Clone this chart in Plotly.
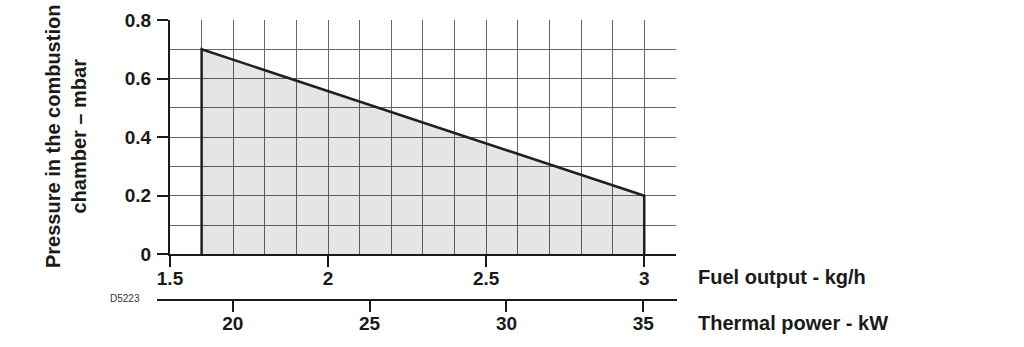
import plotly.graph_objects as go

# Data
fuel_kgh = [1.6, 1.6, 3.0, 3.0]
pressure_mbar = [0.0, 0.7, 0.2, 0.0]

x_range = [1.5, 3.1005]
y_range = [0.0, 0.8]
x_ticks = [1.5, 2, 2.5, 3]
x_ticklabels = ["1.5", "2", "2.5", "3"]
y_ticks = [0, 0.2, 0.4, 0.6, 0.8]
y_ticklabels = ["0", "0.2", "0.4", "0.6", "0.8"]
kw_range = [17.234, 36.23]
kw_ticks = [20, 25, 30, 35]

W, H = 1024, 347
FONT = "Liberation Sans, Arial, sans-serif"
INK = "#1a1a1a"
GRID = "#666666"

def px(x):
    return x / W

def py(y):
    return 1 - y / H

fig = go.Figure()
fig.add_trace(go.Scatter(
    x=fuel_kgh, y=pressure_mbar, mode="lines", fill="toself",
    fillcolor="rgba(0,0,0,0.10)",
    line=dict(color="#231f20", width=2.5),
    hoverinfo="skip", showlegend=False,
))
# invisible trace so that the secondary (thermal power) axis is drawn
fig.add_trace(go.Scatter(
    x=[kw_ticks[0]], y=[None], xaxis="x2", yaxis="y2", mode="markers",
    marker=dict(opacity=0), hoverinfo="skip", showlegend=False,
))

fig.update_layout(
    width=W, height=H,
    margin=dict(l=0, r=0, t=0, b=0),
    paper_bgcolor="white", plot_bgcolor="rgba(0,0,0,0)",
    font=dict(family=FONT, color=INK),
    xaxis=dict(
        domain=[px(170), px(676)], range=x_range, autorange=False,
        tickvals=x_ticks, ticktext=x_ticklabels,
        ticks="outside", ticklen=11, tickwidth=2, tickcolor=INK,
        showline=True, linecolor=INK, linewidth=2,
        showgrid=True, gridcolor=GRID, gridwidth=1,
        minor=dict(dtick=0.1, tick0=1.5, showgrid=True, gridcolor=GRID, gridwidth=1, ticks=""),
        zeroline=False,
        tickfont=dict(size=19, family=FONT, color=INK, weight="bold"),
        ticklabelstandoff=-5,
        automargin=False, anchor="y",
    ),
    yaxis=dict(
        domain=[py(254.3), py(20)], range=y_range, autorange=False,
        tickvals=y_ticks, ticktext=y_ticklabels,
        ticks="outside", ticklen=11, tickwidth=2, tickcolor=INK,
        showline=True, linecolor=INK, linewidth=2,
        showgrid=True, gridcolor=GRID, gridwidth=1,
        minor=dict(dtick=0.1, tick0=0, showgrid=True, gridcolor=GRID, gridwidth=1, ticks=""),
        zeroline=False,
        tickfont=dict(size=19, family=FONT, color=INK, weight="bold"),
        ticklabelstandoff=2,
        automargin=False, anchor="x",
    ),
    xaxis2=dict(
        domain=[px(157), px(677)], range=kw_range, autorange=False,
        anchor="y2",
        tickvals=kw_ticks, ticktext=[str(v) for v in kw_ticks],
        ticks="outside", ticklen=11, tickwidth=2, tickcolor=INK,
        showline=True, linecolor=INK, linewidth=2,
        showgrid=False, zeroline=False,
        tickfont=dict(size=19, family=FONT, color=INK, weight="bold"),
        ticklabelstandoff=-5,
        automargin=False,
    ),
    yaxis2=dict(
        domain=[py(299), py(297)], range=[0, 1], visible=False,
        showgrid=False, zeroline=False, anchor="x2",
    ),
)

ann_font = dict(size=20, family=FONT, color=INK, weight="bold")
fig.add_annotation(x=px(696), y=py(277), xref="paper", yref="paper",
                   text="Fuel output - kg/h", showarrow=False,
                   xanchor="left", yanchor="middle", font=ann_font)
fig.add_annotation(x=px(696), y=py(323), xref="paper", yref="paper",
                   text="Thermal power - kW", showarrow=False,
                   xanchor="left", yanchor="middle", font=ann_font)
fig.add_annotation(x=px(66), y=py(137), xref="paper", yref="paper",
                   text="Pressure in the combustion<br>chamber – mbar", showarrow=False,
                   textangle=-90, xanchor="center", yanchor="middle", font=ann_font)
fig.add_annotation(x=px(108), y=py(298), xref="paper", yref="paper",
                   text="D5223", showarrow=False,
                   xanchor="left", yanchor="middle",
                   font=dict(size=10, family=FONT, color="#333333"))

fig.write_html("out.html")
